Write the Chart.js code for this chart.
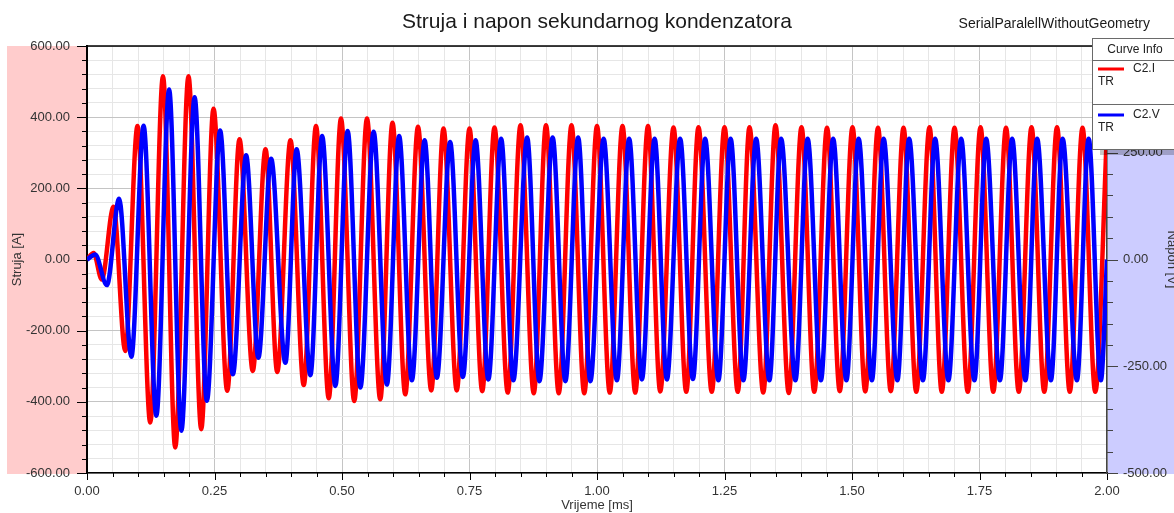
<!DOCTYPE html>
<html>
<head>
<meta charset="utf-8">
<title>Struja i napon sekundarnog kondenzatora</title>
<script src="https://cdn.jsdelivr.net/npm/chart.js"></script>
<style>
    html, body { margin: 0; padding: 0; background: #fff; }
    #wrap { width: 1174px; height: 513px; position: relative; }
</style>
</head>
<body>
<div id="wrap"><canvas id="myChart"></canvas></div>
<script>
// C2.I - struja [A], peaks / troughs (time in ms)
const timeI = [0, 0.013, 0.029, 0.052, 0.075, 0.099, 0.124, 0.149, 0.173, 0.199,
    0.224, 0.248, 0.275, 0.299, 0.325, 0.350, 0.373, 0.399, 0.425, 0.449,
    0.474, 0.498, 0.524, 0.549, 0.575, 0.599, 0.624, 0.649, 0.675, 0.699,
    0.725, 0.750, 0.775, 0.799, 0.825, 0.850, 0.876, 0.900, 0.925, 0.950,
    0.975, 1.000, 1.025, 1.050, 1.075, 1.100, 1.124, 1.150, 1.175, 1.199,
    1.225, 1.250, 1.276, 1.299, 1.326, 1.350, 1.376, 1.401, 1.426, 1.451,
    1.476, 1.501, 1.526, 1.551, 1.576, 1.601, 1.626, 1.652, 1.676, 1.701,
    1.727, 1.752, 1.777, 1.802, 1.827, 1.852, 1.877, 1.902, 1.927, 1.952,
    1.977, 2.000]
const currentI = [0, 18, -56, 148, -257, 375, -458, 515, -528, 515,
    -477, 424, -369, 338, -313, 310, -316, 335, -353, 375,
    -390, 396, -398, 396, -393, 384, -379, 373, -368, 368,
    -368, 368, -370, 371, -374, 377, -376, 377, -376, 377,
    -376, 375, -374, 375, -374, 375, -371, 371, -372, 372,
    -372, 372, -372, 372, -374, 377, -375, 372, -372, 370,
    -370, 372, -371, 370, -370, 370, -372, 372, -372, 370,
    -372, 372, -372, 370, -372, 372, -372, 372, -372, 370,
    -372, 360]

// C2.V - napon [V]
const timeV = [0, 0.016, 0.039, 0.063, 0.087, 0.111, 0.136, 0.161, 0.185, 0.211,
    0.235, 0.261, 0.286, 0.312, 0.336, 0.361, 0.389, 0.411, 0.438, 0.461,
    0.487, 0.511, 0.536, 0.562, 0.588, 0.612, 0.637, 0.662, 0.686, 0.712,
    0.737, 0.762, 0.787, 0.812, 0.836, 0.863, 0.887, 0.913, 0.938, 0.963,
    0.987, 1.013, 1.039, 1.063, 1.088, 1.113, 1.137, 1.163, 1.188, 1.212,
    1.238, 1.262, 1.287, 1.312, 1.338, 1.361, 1.389, 1.413, 1.439, 1.463,
    1.489, 1.513, 1.539, 1.562, 1.589, 1.612, 1.639, 1.663, 1.689, 1.714,
    1.740, 1.763, 1.790, 1.814, 1.840, 1.863, 1.890, 1.913, 1.941, 1.964,
    1.988, 2.000]
const voltageV = [0, 12, -60, 142, -228, 313, -366, 398, -401, 380,
    -331, 302, -269, 244, -230, 236, -242, 258, -271, 289,
    -296, 301, -300, 299, -293, 289, -283, 279, -277, 275,
    -275, 279, -281, 283, -283, 286, -285, 286, -285, 286,
    -285, 283, -283, 283, -281, 283, -281, 283, -280, 283,
    -283, 283, -283, 283, -283, 283, -283, 283, -283, 283,
    -283, 283, -283, 283, -283, 283, -283, 283, -283, 283,
    -283, 283, -283, 283, -283, 283, -283, 283, -283, 283,
    -283, 0]

// labelled ticks
const xLabels = [0, 0.25, 0.5, 0.75, 1, 1.25, 1.5, 1.75, 2]
const leftLabels = [-600, -400, -200, 0, 200, 400, 600]
const rightLabels = [-500, -250, 0, 250, 500]

const FONT = '"Liberation Sans", Arial, sans-serif'

function isLabel(list, v) {
    return list.some(l => Math.abs(l - v) < 1e-6)
}

function pts(xs, ys) {
    return xs.map((x, i) => ({ x: x, y: ys[i] }))
}

// backgrounds, tick marks, titles and the curve info box
const decor = {
    id: 'decor',
    beforeDraw(chart) {
        const c = chart.ctx
        const a = chart.chartArea
        c.save()
        c.fillStyle = '#fff'
        c.fillRect(0, 0, chart.width, chart.height)
        c.fillStyle = '#ffcccc'
        c.fillRect(7, a.top, a.left - 7, a.bottom - a.top + 1)
        c.fillStyle = '#ccccff'
        c.fillRect(a.right, a.top, chart.width - a.right, a.bottom - a.top + 1)
        c.restore()
    },
    afterDraw(chart) {
        const c = chart.ctx
        const a = chart.chartArea
        const sx = chart.scales.x, sy = chart.scales.y, sy2 = chart.scales.y2
        c.save()

        // top frame line
        c.strokeStyle = '#000'
        c.lineWidth = 1.5
        c.beginPath()
        c.moveTo(a.left, a.top)
        c.lineTo(a.right, a.top)
        c.stroke()

        // tick marks
        c.lineWidth = 1
        c.strokeStyle = '#000'
        c.beginPath()
        sy.ticks.forEach(t => {
            const y = Math.round(sy.getPixelForValue(t.value)) + 0.5
            const len = isLabel(leftLabels, t.value) ? 10 : 5
            c.moveTo(a.left - len, y)
            c.lineTo(a.left, y)
        })
        sx.ticks.forEach(t => {
            const x = Math.round(sx.getPixelForValue(t.value)) + 0.5
            const len = isLabel(xLabels, t.value) ? 7 : 4
            c.moveTo(x, a.bottom)
            c.lineTo(x, a.bottom + len)
        })
        c.stroke()
        c.strokeStyle = '#444'
        c.beginPath()
        sy2.ticks.forEach(t => {
            const y = Math.round(sy2.getPixelForValue(t.value)) + 0.5
            const len = isLabel(rightLabels, t.value) ? 11 : 6
            c.moveTo(a.right, y)
            c.lineTo(a.right + len, y)
        })
        c.stroke()

        // titles
        c.fillStyle = '#1a1a1a'
        c.textBaseline = 'middle'
        c.textAlign = 'center'
        c.font = '21px ' + FONT
        c.fillText('Struja i napon sekundarnog kondenzatora', (a.left + a.right) / 2, 22)
        c.font = '14px ' + FONT
        c.textAlign = 'right'
        c.fillText('SerialParalellWithoutGeometry', 1150, 24)

        c.font = '13px ' + FONT
        c.fillStyle = '#333'
        c.textAlign = 'center'
        c.fillText('Vrijeme [ms]', (a.left + a.right) / 2, 505)

        c.save()
        c.translate(17, (a.top + a.bottom) / 2)
        c.rotate(-Math.PI / 2)
        c.fillText('Struja [A]', 0, 0)
        c.restore()

        c.save()
        c.translate(1168, (a.top + a.bottom) / 2)
        c.rotate(Math.PI / 2)
        c.textBaseline = 'alphabetic'
        c.fillText('Napon [V]', 0, 0)
        c.restore()

        // curve info box
        const bx = 1092, by = 38, bh = 112
        c.fillStyle = 'rgba(0,0,0,0.22)'
        c.fillRect(bx + 8, by + bh, chart.width - bx - 8, 5)
        c.fillStyle = '#fff'
        c.fillRect(bx, by, chart.width - bx, bh)
        c.strokeStyle = '#6a6a6a'
        c.lineWidth = 1
        c.strokeRect(bx + 0.5, by + 0.5, chart.width, bh - 1)
        c.beginPath()
        c.moveTo(bx, by + 22.5)
        c.lineTo(chart.width, by + 22.5)
        c.moveTo(bx, by + 66.5)
        c.lineTo(chart.width, by + 66.5)
        c.stroke()

        c.fillStyle = '#222'
        c.font = '12px ' + FONT
        c.textAlign = 'center'
        c.fillText('Curve Info', 1135, by + 12)

        const entries = [chart.data.datasets[1], chart.data.datasets[0]]
        entries.forEach((ds, i) => {
            const ly = 69 + i * 46
            c.strokeStyle = ds.borderColor
            c.lineWidth = 3
            c.beginPath()
            c.moveTo(1098, ly)
            c.lineTo(1124, ly)
            c.stroke()
            c.fillStyle = '#222'
            c.textAlign = 'left'
            c.fillText(ds.label, 1133, ly)
            c.fillText('TR', 1098, ly + 13)
        })
        c.restore()
    }
}

let ctx = document.getElementById('myChart').getContext('2d')
let myChart = new Chart(ctx, {
    type: 'line',
    data: {
        datasets: [{
            label: 'C2.V',
            data: pts(timeV, voltageV),
            yAxisID: 'y2',
            borderColor: '#0000ff',
            borderWidth: 4.5,
            pointRadius: 0,
            cubicInterpolationMode: 'monotone',
            order: 0
        }, {
            label: 'C2.I',
            data: pts(timeI, currentI),
            yAxisID: 'y',
            borderColor: '#ff0000',
            borderWidth: 4.5,
            pointRadius: 0,
            cubicInterpolationMode: 'monotone',
            order: 1
        }]
    },
    options: {
        responsive: true,
        maintainAspectRatio: false,
        animation: false,
        devicePixelRatio: 1,
        layout: { padding: { top: 46, left: 0, right: 0, bottom: 0 } },
        plugins: {
            legend: { display: false },
            title: { display: false },
            tooltip: { enabled: false }
        },
        scales: {
            x: {
                type: 'linear',
                min: 0,
                max: 2,
                afterFit: s => { s.height = 40 },
                ticks: {
                    stepSize: 0.05,
                    maxTicksLimit: 100,
                    autoSkip: false,
                    maxRotation: 0,
                    padding: 11,
                    color: '#333',
                    font: { family: FONT, size: 13 },
                    callback: v => isLabel(xLabels, v) ? v.toFixed(2) : ''
                },
                grid: {
                    drawTicks: false,
                    lineWidth: 1,
                    color: c => isLabel(xLabels, c.tick.value) ? '#c4c4c4' : '#e6e6e6'
                },
                border: { color: '#000', width: 1.5 }
            },
            y: {
                position: 'left',
                min: -600,
                max: 600,
                afterFit: s => { s.width = 87 },
                ticks: {
                    stepSize: 40,
                    maxTicksLimit: 100,
                    autoSkip: false,
                    padding: 17,
                    color: '#333',
                    font: { family: FONT, size: 13 },
                    callback: v => isLabel(leftLabels, v) ? v.toFixed(2) : ''
                },
                grid: {
                    drawTicks: false,
                    lineWidth: 1,
                    color: c => isLabel(leftLabels, c.tick.value) ? '#c4c4c4' : '#e6e6e6'
                },
                border: { color: '#000', width: 2 }
            },
            y2: {
                position: 'right',
                min: -500,
                max: 500,
                afterFit: s => { s.width = 67 },
                ticks: {
                    stepSize: 50,
                    maxTicksLimit: 100,
                    autoSkip: false,
                    padding: 16,
                    color: '#333',
                    font: { family: FONT, size: 13 },
                    callback: v => isLabel(rightLabels, v) ? v.toFixed(2) : ''
                },
                grid: { drawTicks: false, drawOnChartArea: false },
                border: { color: '#444', width: 1.5 }
            }
        }
    },
    plugins: [decor]
})
</script>
</body>
</html>
